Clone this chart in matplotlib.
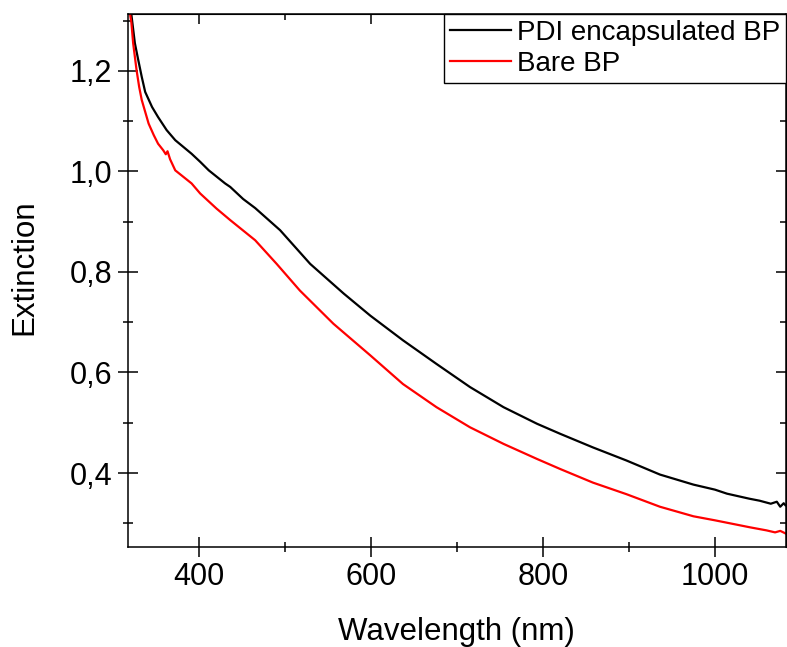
import matplotlib.pyplot as plt
from matplotlib.ticker import MultipleLocator, FuncFormatter

plt.rcParams['font.family'] = ['Liberation Sans', 'DejaVu Sans']

# wavelength (nm) and extinction
wl_pdi = [317, 321, 325, 329, 333, 337, 345, 352, 362, 372, 391, 401, 411, 430, 436, 451,
          465, 494, 529, 568, 599, 637, 676, 715, 754, 793, 820, 858, 897, 936, 975, 1000,
          1014, 1040, 1052, 1065, 1072, 1076, 1080, 1082]
ext_pdi = [1.34, 1.311, 1.255, 1.221, 1.188, 1.158, 1.128, 1.108, 1.082, 1.062, 1.035,
           1.019, 1.002, 0.976, 0.969, 0.945, 0.927, 0.883, 0.816, 0.757, 0.713, 0.664,
           0.617, 0.571, 0.531, 0.498, 0.478, 0.451, 0.425, 0.397, 0.377, 0.367, 0.359,
           0.349, 0.345, 0.339, 0.343, 0.333, 0.340, 0.336]

wl_bare = [317, 321, 323, 327, 330, 333, 341, 347, 352, 358, 361, 363, 366, 372, 391,
           401, 420, 436, 465, 490, 517, 556, 599, 637, 676, 715, 754, 793, 820, 858,
           897, 936, 975, 1000, 1041, 1060, 1070, 1076, 1082]
ext_bare = [1.34, 1.295, 1.255, 1.201, 1.168, 1.142, 1.095, 1.072, 1.055, 1.042, 1.034,
            1.040, 1.024, 1.002, 0.976, 0.956, 0.926, 0.903, 0.863, 0.816, 0.763, 0.697,
            0.634, 0.577, 0.531, 0.491, 0.458, 0.428, 0.408, 0.381, 0.358, 0.333, 0.314,
            0.306, 0.292, 0.286, 0.282, 0.285, 0.280]

labels = ['PDI encapsulated BP', 'Bare BP']


def comma_fmt(v, pos):
    return f'{v:.1f}'.replace('.', ',')


fig = plt.figure(figsize=(7.87, 6.47), dpi=100)
ax = fig.add_axes([0.1623, 0.155, 0.836, 0.8234])

ax.plot(wl_pdi, ext_pdi, color='black', lw=1.6, label=labels[0])
ax.plot(wl_bare, ext_bare, color='#ff0000', lw=1.6, label=labels[1])

ax.set_xlim(316.7, 1082.3)
ax.set_ylim(0.2535, 1.313)

ax.xaxis.set_major_locator(MultipleLocator(200))
ax.xaxis.set_minor_locator(MultipleLocator(100))
ax.yaxis.set_major_locator(MultipleLocator(0.2))
ax.yaxis.set_minor_locator(MultipleLocator(0.1))
ax.yaxis.set_major_formatter(FuncFormatter(comma_fmt))

ax.tick_params(which='major', direction='inout', length=14.4, width=1.1, labelsize=22, pad=4)
ax.tick_params(which='minor', direction='inout', length=7.5, width=1.1)
for sp in ax.spines.values():
    sp.set_linewidth(1.1)

# top and right ticks pointing inward, no labels
top = ax.secondary_xaxis('top')
top.xaxis.set_major_locator(MultipleLocator(200))
top.xaxis.set_minor_locator(MultipleLocator(100))
top.tick_params(which='major', direction='in', length=7.2, width=1.1, labeltop=False)
top.tick_params(which='minor', direction='in', length=4.3, width=1.1)
right = ax.secondary_yaxis('right')
right.yaxis.set_major_locator(MultipleLocator(0.2))
right.yaxis.set_minor_locator(MultipleLocator(0.1))
right.tick_params(which='major', direction='in', length=7.2, width=1.1, labelright=False)
right.tick_params(which='minor', direction='in', length=4.3, width=1.1)
top.set_zorder(1)
right.set_zorder(1)

ax.set_xlabel('Wavelength (nm)', fontsize=22.5, labelpad=18)
ax.set_ylabel('Extinction', fontsize=22.5)
ax.yaxis.set_label_coords(-0.134, 0.525)

leg = ax.legend(loc='upper right', fontsize=20, frameon=True, fancybox=False,
                framealpha=1, edgecolor='black', borderaxespad=0, borderpad=0.2,
                handlelength=2.2, handletextpad=0.22, labelspacing=0.2)
leg.get_frame().set_linewidth(1.0)
leg.set_zorder(10)

fig.savefig('out.png', dpi=100)
